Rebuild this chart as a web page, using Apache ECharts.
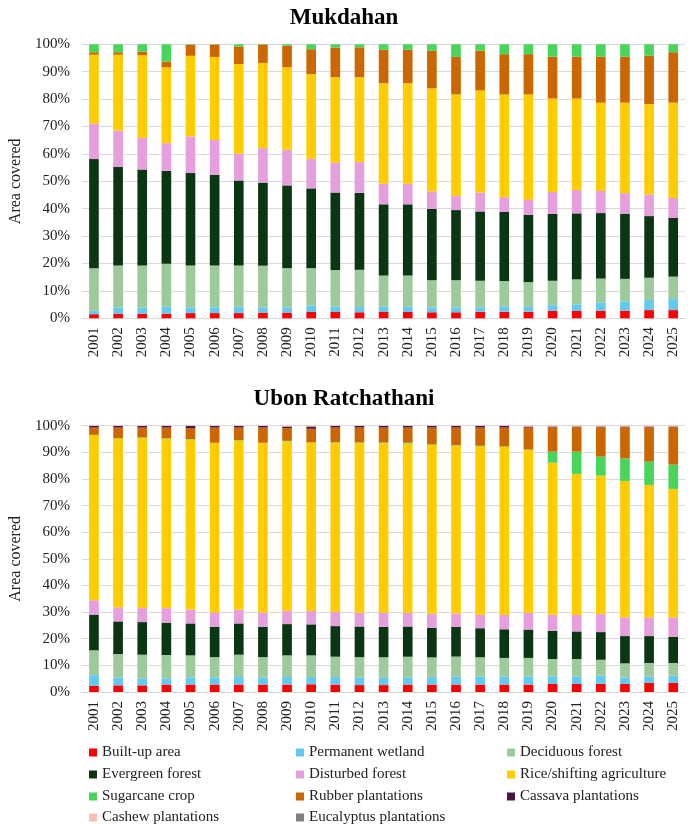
<!DOCTYPE html>
<html>
<head>
<meta charset="utf-8">
<script src="https://cdn.jsdelivr.net/npm/echarts@6/dist/echarts.min.js"></script>
<style>html,body{margin:0;padding:0;background:#fff;}#c{width:688px;height:824px;}</style>
</head>
<body>
<div id="c"></div>
<script>
const years = ['2001','2002','2003','2004','2005','2006','2007','2008','2009','2010','2011','2012','2013','2014','2015','2016','2017','2018','2019','2020','2021','2022','2023','2024','2025'];
const yTicks = [0,10,20,30,40,50,60,70,80,90,100];
const names = ['Built-up area','Permanent wetland','Deciduous forest','Evergreen forest','Disturbed forest','Rice/shifting agriculture','Sugarcane crop','Rubber plantations','Cassava plantations','Cashew plantations','Eucalyptus plantations'];
const colors = {'Built-up area':'#ff0000','Permanent wetland':'#62c9f2','Deciduous forest':'#9dca9b','Evergreen forest':'#0b3614','Disturbed forest':'#e59fdc','Rice/shifting agriculture':'#ffcc00','Sugarcane crop':'#48d55b','Rubber plantations':'#cc6600','Cassava plantations':'#4e1342','Cashew plantations':'#f7c3ae','Eucalyptus plantations':'#7f7f7f'};

// Mukdahan (% of area)
const mukBuilt = [1.5,1.7,1.7,1.7,1.9,1.9,1.9,2.1,2.1,2.3,2.3,2.2,2.3,2.3,2.2,2.2,2.4,2.4,2.4,2.7,2.7,2.8,2.8,3.0,3.0];
const mukWetland = [1.2,2.2,2.2,2.5,2.1,2.1,2.3,1.9,1.9,2.4,1.9,1.9,1.9,1.9,1.8,1.8,1.6,1.8,1.8,2.1,2.4,2.9,3.4,3.7,4.0];
const mukDeciduous = [15.6,15.4,15.4,15.7,15.3,15.3,15.1,15.2,14.3,13.6,13.4,13.6,11.4,11.4,9.9,9.9,9.7,9.4,9.0,8.9,9.1,8.8,8.2,8.1,8.2];
const mukEvergreen = [39.8,35.9,35.0,33.9,33.7,33.1,31.0,30.3,30.2,29.1,28.3,28.1,26.0,26.0,26.0,25.6,25.3,25.2,24.6,24.4,24.1,23.9,23.8,22.5,21.4];
const mukDisturbed = [12.9,13.3,11.5,10.1,13.4,12.7,9.8,12.6,13.0,10.7,10.9,11.2,7.5,7.5,6.4,5.1,6.9,5.4,5.5,8.0,8.5,8.1,7.5,7.9,7.3];
const mukRice = [25.2,27.7,30.2,27.7,29.4,30.3,32.7,31.1,30.1,31.0,31.2,31.0,36.7,36.7,37.6,37.1,37.3,37.5,38.4,34.1,33.4,32.2,33.0,33.0,34.8];
const mukRubber = [0.9,0.9,1.3,2.1,4.0,4.5,6.4,6.7,7.9,9.1,10.8,10.9,12.2,12.2,13.7,13.7,14.5,14.7,14.7,15.3,15.3,16.8,16.8,17.6,18.4];
const mukSugar = [2.9,2.9,2.7,6.3,0.2,0.1,0.8,0.1,0.5,1.8,1.2,1.1,2.0,2.0,2.4,4.6,2.3,3.6,3.6,4.5,4.5,4.5,4.5,4.2,2.9];
const mukCassava = [0,0,0,0,0,0,0,0,0,0,0,0,0,0,0,0,0,0,0,0,0,0,0,0,0];
const mukCashew = [0,0,0,0,0,0,0,0,0,0,0,0,0,0,0,0,0,0,0,0,0,0,0,0,0];
const mukEucalyptus = [0,0,0,0,0,0,0,0,0,0,0,0,0,0,0,0,0,0,0,0,0,0,0,0,0];

// Ubon Ratchathani (% of area)
const ubnBuilt = [2.3,2.5,2.5,2.8,2.8,2.8,2.8,2.8,2.8,2.9,2.8,2.6,2.6,2.8,2.8,2.8,2.8,2.8,2.8,3.0,3.0,3.1,3.0,3.4,3.4];
const ubnWetland = [4.0,2.9,2.6,2.3,2.7,2.7,2.8,2.7,2.8,2.7,2.8,2.9,2.7,2.7,2.8,3.0,3.0,3.0,3.0,2.9,2.75,3.0,2.4,2.35,2.7];
const ubnDeciduous = [9.35,8.85,8.9,8.8,8.25,7.6,8.4,7.6,8.15,8.15,7.65,7.6,7.75,7.75,7.4,7.5,7.25,7.0,7.0,6.5,6.65,6.0,5.35,5.15,4.8];
const ubnEvergreen = [13.4,12.25,12.25,12.1,12.0,11.4,11.75,11.4,11.75,11.65,11.5,11.5,11.4,11.35,11.1,11.15,10.9,10.75,10.65,10.6,10.35,10.4,10.25,10.1,9.85];
const ubnDisturbed = [5.4,5.25,5.25,5.5,5.25,5.4,5.15,5.4,4.9,5.0,5.25,5.15,5.35,5.15,5.3,5.0,5.1,5.4,6.35,6.0,6.15,6.75,7.0,7.0,7.25];
const ubnRice = [62.1,63.5,63.9,63.6,63.75,63.7,63.5,63.7,63.7,63.35,63.6,63.85,63.65,63.55,63.4,63.1,63.2,63.2,61.15,57.1,53.0,52.0,51.25,49.75,48.25];
const ubnSugar = [0,0.1,0.2,0.2,0.2,0,0.2,0,0.2,0,0.2,0.1,0.2,0.3,0.2,0.1,0.2,0.1,0.1,4.15,8.35,7.15,8.5,8.75,9.15];
const ubnRubber = [2.75,3.95,3.7,4.0,4.05,5.7,4.7,5.7,4.8,5.1,5.5,5.6,5.65,5.7,6.3,6.65,6.85,7.05,8.25,9.15,9.15,11.0,11.65,12.9,14.0];
const ubnCassava = [0.6,0.6,0.6,0.6,0.9,0.6,0.6,0.6,0.6,0.85,0.6,0.6,0.6,0.6,0.6,0.6,0.6,0.6,0.4,0.3,0.3,0.3,0.3,0.3,0.3];
const ubnCashew = [0.1,0.1,0.1,0.1,0.1,0.1,0.1,0.1,0.3,0.3,0.1,0.1,0.1,0.1,0.1,0.1,0.1,0.1,0.3,0.3,0.3,0.3,0.3,0.3,0.3];
const ubnEucalyptus = [0,0,0,0,0,0,0,0,0,0,0,0,0,0,0,0,0,0,0,0,0,0,0,0,0];

const mukSeries = [
  ['Built-up area',mukBuilt],['Permanent wetland',mukWetland],['Deciduous forest',mukDeciduous],['Evergreen forest',mukEvergreen],
  ['Disturbed forest',mukDisturbed],['Rice/shifting agriculture',mukRice],['Rubber plantations',mukRubber],['Sugarcane crop',mukSugar],
  ['Cassava plantations',mukCassava],['Cashew plantations',mukCashew],['Eucalyptus plantations',mukEucalyptus]];
const ubnSeries = [
  ['Built-up area',ubnBuilt],['Permanent wetland',ubnWetland],['Deciduous forest',ubnDeciduous],['Evergreen forest',ubnEvergreen],
  ['Disturbed forest',ubnDisturbed],['Rice/shifting agriculture',ubnRice],['Sugarcane crop',ubnSugar],['Rubber plantations',ubnRubber],
  ['Cassava plantations',ubnCassava],['Cashew plantations',ubnCashew],['Eucalyptus plantations',ubnEucalyptus]];

const FONT = 'Liberation Serif';
const series = [];
mukSeries.forEach(([n,d]) => series.push({name:n,type:'bar',stack:'muk',xAxisIndex:0,yAxisIndex:0,barWidth:'40%',data:d,itemStyle:{color:colors[n]},emphasis:{disabled:true}}));
ubnSeries.forEach(([n,d]) => series.push({name:n,type:'bar',stack:'ubn',xAxisIndex:1,yAxisIndex:1,barWidth:'40%',data:d,itemStyle:{color:colors[n]},emphasis:{disabled:true}}));

function xAx(grid){return {type:'category',gridIndex:grid,data:years,axisLine:{show:true,lineStyle:{color:'#d9d9d9'}},axisTick:{show:false},
  axisLabel:{rotate:90,fontFamily:FONT,fontSize:15,color:'#222',margin:9}};}
function yAx(grid){return {type:'value',gridIndex:grid,min:yTicks[0],max:yTicks[yTicks.length-1],interval:10,
  name:'Area covered',nameLocation:'middle',nameGap:50,nameRotate:90,nameTextStyle:{fontFamily:FONT,fontSize:16,color:'#222'},
  axisLine:{show:false},axisTick:{show:false},splitLine:{lineStyle:{color:'#d9d9d9'}},
  axisLabel:{formatter:'{value}%',fontFamily:FONT,fontSize:15,color:'#222',margin:12}};}

// legend layout: 3 columns x 4 rows
const colLeft = [84, 291, 502];
const rowTop = [740, 762, 784, 805];
const legends = names.map((n,i) => ({
  icon:'rect',itemWidth:8,itemHeight:8,itemGap:0,selectedMode:false,
  left:colLeft[i%3],top:rowTop[Math.floor(i/3)],data:[n],
  textStyle:{fontFamily:FONT,fontSize:15,color:'#222'},itemStyle:{borderWidth:0}
}));

const chart = echarts.init(document.getElementById('c'),null,{renderer:'canvas'});
chart.setOption({
  animation:false,
  title:[
    {text:'Mukdahan',left:'center',top:2,textStyle:{fontFamily:FONT,fontSize:23,fontWeight:'bold',color:'#000'}},
    {text:'Ubon Ratchathani',left:'center',top:383,textStyle:{fontFamily:FONT,fontSize:23,fontWeight:'bold',color:'#000'}}
  ],
  grid:[{left:70.7,right:2.7,top:44.3,height:274},{left:70.7,right:2.7,top:425.7,height:266.3}],
  xAxis:[xAx(0),xAx(1)],
  yAxis:[yAx(0),yAx(1)],
  legend:legends,
  series:series
});
</script>
</body>
</html>
